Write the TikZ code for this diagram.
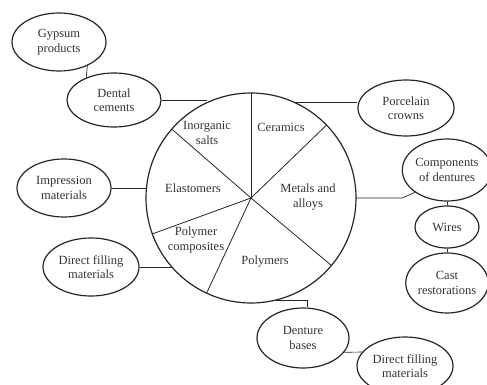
\documentclass[tikz,border=0pt]{standalone}
\usepackage{fontspec}
\setmainfont{Liberation Serif}
\usetikzlibrary{shapes.geometric,calc}
\begin{document}
\begin{tikzpicture}[x=1pt,y=-1pt,
  oval/.style={ellipse,draw=black!85,line width=1.2pt,inner sep=0pt,align=center,
    font=\fontsize{12.5}{14.5}\selectfont,text=black!80},
  lbl/.style={align=center,inner sep=0pt,font=\fontsize{12.5}{14.5}\selectfont,text=black!80},
  link/.style={line width=0.7pt,draw=black!85},
  spoke/.style={line width=0.8pt,draw=black!85}]
\useasboundingbox (0,0) rectangle (487,385);

% pie
\node[circle,draw=black!85,line width=1.2pt,minimum size=210pt,inner sep=0pt,outer sep=0pt] (C) at (251,198) {};
\foreach \a in {90,44,-40,245,200,139} \draw[spoke] (C.center) -- (C.\a);

\node[lbl] (ins) at (207,133) {Inorganic\\salts};
\node[lbl] (cer) at (281,127) {Ceramics};
\node[lbl] (ela) at (193,188) {Elastomers};
\node[lbl] (met) at (308,197) {Metals and\\alloys};
\node[lbl] (pco) at (196,240) {Polymer\\composites};
\node[lbl] (pol) at (265,262) {Polymers};

% outer ellipses
\node[oval,minimum width=94pt,minimum height=58pt] (gp) at (59,42) {Gypsum\\products};
\node[oval,minimum width=94pt,minimum height=54pt] (dc) at (114,100) {Dental\\cements};
\node[oval,minimum width=94pt,minimum height=58pt] (im) at (64,188) {Impression\\materials};
\node[oval,minimum width=96pt,minimum height=58pt] (dfa) at (91,267) {Direct filling\\materials};
\node[oval,minimum width=96pt,minimum height=56pt] (pc) at (406,108) {Porcelain\\crowns};
\node[oval,minimum width=88pt,minimum height=62pt] (cd) at (447,170) {Components\\of dentures};
\node[oval,minimum width=64pt,minimum height=42pt] (w) at (447,227) {Wires};
\node[oval,minimum width=82pt,minimum height=60pt] (cr) at (447,283) {Cast\\restorations};
\node[oval,minimum width=92pt,minimum height=60pt] (db) at (303,338) {Denture\\bases};
\node[oval,minimum width=96pt,minimum height=58pt] (dfb) at (405,366) {Direct filling\\materials};

% connectors
\draw[link] (gp.-40) -- (dc.141);
\draw[link] (dc.east) -- (dc.east -| C.115);
\draw[link] (im.east) -- (im.east -| C.174);
\draw[link] (dfa.east) -- (dfa.east -| C.222);
\draw[link] (C.65) -- (C.65 -| pc.west);
\coordinate (bend) at ($(C.0)+(46,0)$);
\draw[link] (C.0) -- (bend) -- (cd.215);
\draw[link] (cd.south) -- (w.north);
\draw[link] (w.south) -- (cr.north);
\coordinate (dbtop) at ($(db.north)+(4,0)$);
\draw[link] (C.284) -| (dbtop);
\draw[link] (db.-19) -- (dfb.162);
\end{tikzpicture}
\end{document}
